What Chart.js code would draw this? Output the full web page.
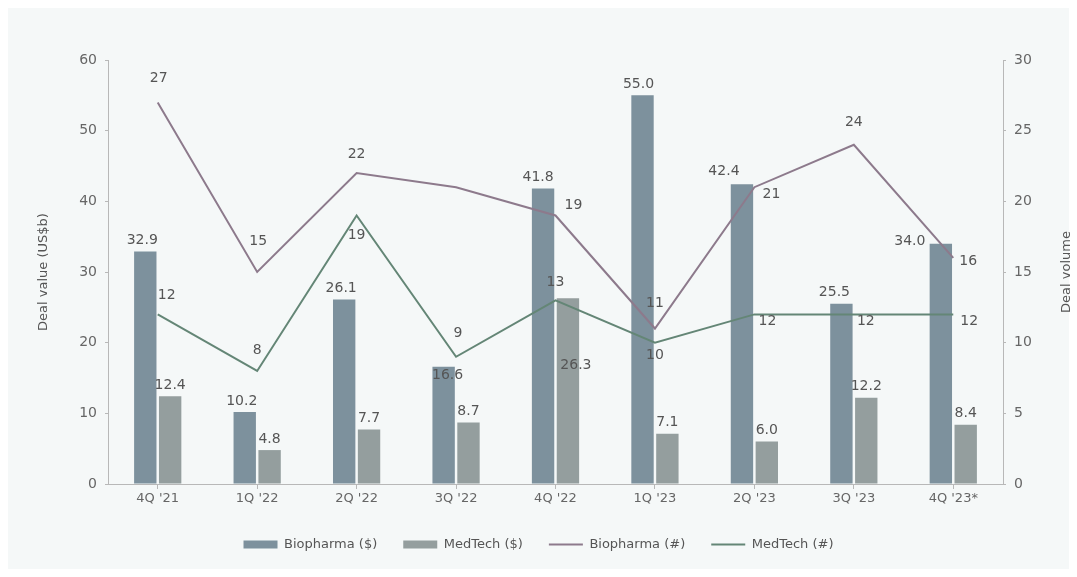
<!DOCTYPE html>
<html>
<head>
<meta charset="utf-8">
<script src="https://cdn.jsdelivr.net/npm/chart.js@4"></script>
<style>
  html, body { margin: 0; padding: 0; background: #fff; }
  #wrap { width: 1077px; height: 577px; }
</style>
</head>
<body>
<div id="wrap"><canvas id="dealChart" width="1077" height="577"></canvas></div>
<script>
// 분기 라벨
const quarters = ["4Q '21", "1Q '22", "2Q '22", "3Q '22", "4Q '22", "1Q '23", "2Q '23", "3Q '23", "4Q '23*"];

// 거래 금액 (US$b)
const biopharmaValue = [32.9, 10.2, 26.1, 16.6, 41.8, 55.0, 42.4, 25.5, 34.0];
const medtechValue = [12.4, 4.8, 7.7, 8.7, 26.3, 7.1, 6.0, 12.2, 8.4];

// 거래 건수
const biopharmaVolume = [27, 15, 22, 21, 19, 11, 21, 24, 16];
const medtechVolume = [12, 8, 19, 9, 13, 10, 12, 12, 12];
const biopharmaVolumeShown = [true, true, true, false, true, true, true, true, true];

// 축 눈금
const valueTicks = [0, 10, 20, 30, 40, 50, 60];
const volumeTicks = [0, 5, 10, 15, 20, 25, 30];

const FONT = "'DejaVu Sans', sans-serif";
const TEXT = '#555';

// 라벨 위치 보정 (datasetIndex -> 점별 [dx, dy])
const labelShift = {
    0: [[-3, -11], [-3, -11], [-3, -11], [4, 9], [-5, -11], [-4, -11], [-18, -13], [-7, -11], [-31, -2]],
    1: [[0, -11], [0, -11], [0, -11], [0, -11], [8, 67], [0, -11], [0, -11], [0, -11], [0, -11]],
    2: [[1, -24], [1, -31], [0, -19], [0, 0], [18, -10], [0, -25], [17, 7], [0, -22], [15, 3]],
    3: [[9, -19], [0, -21], [0, 20], [2, -23], [0, -18], [0, 13], [13, 7], [12, 7], [16, 7]]
};

const panelBg = {
    id: 'panelBg',
    beforeDraw(chart) {
        const c = chart.ctx;
        c.save();
        c.fillStyle = '#ffffff';
        c.fillRect(0, 0, chart.width, chart.height);
        c.fillStyle = '#f5f8f8';
        c.fillRect(8, 8, chart.width - 16, chart.height - 16);
        c.restore();
    }
};

// 오른쪽 축 제목 (아래에서 위로 읽히게)
const rightTitle = {
    id: 'rightTitle',
    afterDraw(chart) {
        const c = chart.ctx;
        const a = chart.chartArea;
        c.save();
        c.translate(1067, (a.top + a.bottom) / 2);
        c.rotate(-Math.PI / 2);
        c.font = '13px ' + FONT;
        c.fillStyle = TEXT;
        c.textAlign = 'center';
        c.textBaseline = 'middle';
        c.fillText('Deal volume', 0, 0);
        c.restore();
    }
};

const valueLabels = {
    id: 'valueLabels',
    afterDatasetsDraw(chart) {
        const c = chart.ctx;
        c.save();
        c.font = '14px ' + FONT;
        c.fillStyle = TEXT;
        c.textAlign = 'center';
        c.textBaseline = 'middle';
        chart.data.datasets.forEach((ds, di) => {
            const meta = chart.getDatasetMeta(di);
            meta.data.forEach((el, i) => {
                if (di === 2 && !biopharmaVolumeShown[i]) return;
                const v = ds.data[i];
                const txt = di < 2 ? v.toFixed(1) : String(v);
                const [dx, dy] = labelShift[di][i];
                c.fillText(txt, el.x + dx, el.y + dy);
            });
        });
        c.restore();
    }
};

function renderChart() {
    const ctx = document.getElementById('dealChart').getContext('2d');

    new Chart(ctx, {
        type: 'bar',
        data: {
            labels: quarters,
            datasets: [
                {
                    label: 'Biopharma ($)',
                    data: biopharmaValue,
                    backgroundColor: '#7d919d',
                    yAxisID: 'y',
                    order: 1,
                    categoryPercentage: 0.5,
                    barPercentage: 0.9
                },
                {
                    label: 'MedTech ($)',
                    data: medtechValue,
                    backgroundColor: '#949e9e',
                    yAxisID: 'y',
                    order: 1,
                    categoryPercentage: 0.5,
                    barPercentage: 0.9
                },
                {
                    type: 'line',
                    label: 'Biopharma (#)',
                    data: biopharmaVolume,
                    borderColor: '#8d7a8c',
                    backgroundColor: '#8d7a8c',
                    borderWidth: 2,
                    pointRadius: 0,
                    tension: 0,
                    yAxisID: 'y1',
                    order: 0
                },
                {
                    type: 'line',
                    label: 'MedTech (#)',
                    data: medtechVolume,
                    borderColor: '#648676',
                    backgroundColor: '#648676',
                    borderWidth: 2,
                    pointRadius: 0,
                    tension: 0,
                    yAxisID: 'y1',
                    order: 0
                }
            ]
        },
        options: {
            responsive: false,
            animation: false,
            devicePixelRatio: 1,
            layout: { padding: { top: 60, bottom: 16, left: 0, right: 0 } },
            plugins: {
                tooltip: { enabled: false },
                legend: {
                    position: 'bottom',
                    labels: {
                        usePointStyle: true,
                        pointStyleWidth: 34,
                        boxHeight: 8,
                        padding: 26,
                        color: TEXT,
                        font: { family: FONT, size: 13 },
                        sort: (a, b) => a.datasetIndex - b.datasetIndex,
                        generateLabels(chart) {
                            const items = Chart.defaults.plugins.legend.labels.generateLabels(chart);
                            items.forEach(it => {
                                const isLine = it.datasetIndex >= 2;
                                it.pointStyle = isLine ? 'line' : 'rect';
                                it.lineWidth = isLine ? 2 : 0;
                            });
                            return items;
                        }
                    }
                }
            },
            scales: {
                x: {
                    offset: true,
                    grid: { display: true, drawOnChartArea: false, offset: false, tickLength: 5, color: '#b8b8b8' },
                    border: { color: '#b8b8b8' },
                    ticks: { color: '#666', font: { family: FONT, size: 13 }, padding: 2, maxRotation: 0 },
                    afterFit(s) { s.height = 28; }
                },
                y: {
                    position: 'left',
                    min: 0,
                    max: 60,
                    afterBuildTicks(s) { s.ticks = valueTicks.map(v => ({ value: v })); },
                    grid: { drawOnChartArea: false, tickLength: 3, color: '#b8b8b8' },
                    border: { color: '#b8b8b8' },
                    ticks: { color: '#666', font: { family: FONT, size: 14 }, padding: 8 },
                    title: {
                        display: true,
                        text: 'Deal value (US$b)',
                        color: TEXT,
                        font: { family: FONT, size: 13 },
                        padding: { top: 36, bottom: 0 }
                    },
                    afterFit(s) { s.width = 108; }
                },
                y1: {
                    position: 'right',
                    min: 0,
                    max: 30,
                    afterBuildTicks(s) { s.ticks = volumeTicks.map(v => ({ value: v })); },
                    grid: { drawOnChartArea: false, tickLength: 3, color: '#b8b8b8' },
                    border: { color: '#b8b8b8' },
                    ticks: { color: '#666', font: { family: FONT, size: 14 }, padding: 8 },
                    afterFit(s) { s.width = 74; }
                }
            }
        },
        plugins: [panelBg, rightTitle, valueLabels]
    });
}

window.onload = renderChart;
</script>
</body>
</html>
